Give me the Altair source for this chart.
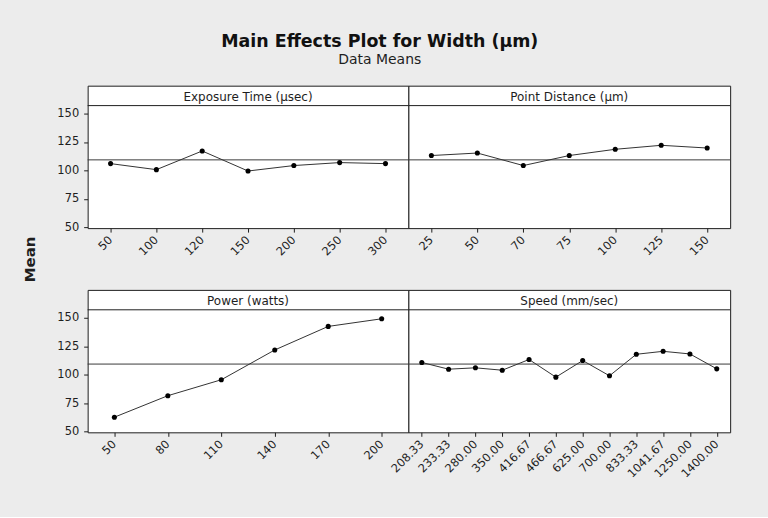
import altair as alt
import pandas as pd

# Overall mean of Width, drawn as the reference line in every panel
GRAND_MEAN = 109.3

exposure_levels = ["50", "100", "120", "150", "200", "250", "300"]
exposure_means = [106.0, 100.7, 117.1, 99.5, 104.3, 106.9, 106.0]

distance_levels = ["25", "50", "70", "75", "100", "125", "150"]
distance_means = [113.1, 115.3, 104.3, 113.1, 118.6, 122.1, 119.7]

power_levels = ["50", "80", "110", "140", "170", "200"]
power_means = [62.6, 81.5, 95.5, 121.7, 142.4, 149.1]

speed_levels = ["208.33", "233.33", "280.00", "350.00", "416.67", "466.67",
                "625.00", "700.00", "833.33", "1041.67", "1250.00", "1400.00"]
speed_means = [110.7, 104.8, 106.0, 103.9, 113.3, 97.8,
               112.4, 99.0, 117.9, 120.5, 118.2, 105.1]

y_ticks = [50, 75, 100, 125, 150]

FONT = "DejaVu Sans"
INK = "#1e1e1e"
STRIP = 20          # height of the factor-name strip on top of each panel
PLOT_H = 123        # height of the data area below the strip
H = STRIP + PLOT_H
Y_DOMAIN = [49.3, 157]
ROW_GAP = 31        # space between the top row's tick labels and the lower row


def panel(name, levels, means, width, show_y):
    df = pd.DataFrame({"level": levels, "mean": means})
    x = alt.X(
        "level:O",
        sort=levels,
        scale=alt.Scale(type="point", padding=0.5),
        axis=alt.Axis(title=None, labelAngle=-45, labelAlign="right",
                      labelBaseline="middle", labelPadding=6),
    )
    y_axis = (alt.Axis(title=None, values=y_ticks, labelPadding=5)
              if show_y else None)
    y = alt.Y(
        "mean:Q",
        scale=alt.Scale(domain=Y_DOMAIN, range=[H, STRIP], nice=False, zero=False),
        axis=y_axis,
    )
    ref_df = pd.DataFrame({"mean": [GRAND_MEAN]})
    base = alt.Chart(df)
    ref = alt.Chart(ref_df).mark_rule(color="#3a3a3a", strokeWidth=1).encode(y=y)
    line = base.mark_line(color="#333333", strokeWidth=1).encode(x=x, y=y)
    dots = base.mark_circle(color="#000000", size=26, opacity=1).encode(x=x, y=y)
    label_df = pd.DataFrame({"name": [name]})
    strip_line = alt.Chart(label_df).mark_rule(color=INK, strokeWidth=1).encode(
        x=alt.value(0), x2=alt.value(width), y=alt.value(STRIP)
    )
    strip_text = alt.Chart(label_df).mark_text(
        font=FONT, fontSize=12, color=INK, baseline="middle", align="center"
    ).encode(text="name:N", x=alt.value(width / 2), y=alt.value(STRIP / 2 + 1))
    return alt.layer(ref, line, dots, strip_line, strip_text).properties(
        width=width, height=H
    )


p1 = panel("Exposure Time (µsec)", exposure_levels, exposure_means, 322, True)
p2 = panel("Point Distance (µm)", distance_levels, distance_means, 323, False)
p3 = panel("Power (watts)", power_levels, power_means, 322, True)
p4 = panel("Speed (mm/sec)", speed_levels, speed_means, 323, False)

grid = alt.vconcat(
    alt.hconcat(p1, p2, spacing=0, bounds="flush"),
    alt.hconcat(p3, p4, spacing=0, bounds="flush"),
    spacing=ROW_GAP,
)

# Shared y-axis title, centred between the two panel rows
mean_h = 2 * H + 63
mean_label = (
    alt.Chart(pd.DataFrame({"t": ["Mean"]}))
    .mark_text(font=FONT, fontSize=15, fontWeight="bold", color=INK,
               angle=270, baseline="middle", align="center")
    .encode(text="t:N", x=alt.value(6), y=alt.value(mean_h / 2))
    .properties(width=12, height=mean_h,
                view=alt.ViewBackground(stroke="transparent", fill="transparent"))
)

chart = (
    alt.hconcat(
        mean_label,
        grid,
        spacing=17,
        title=alt.TitleParams(
            "Main Effects Plot for Width (µm)",
            subtitle="Data Means",
            font=FONT, fontSize=17.5, fontWeight="bold", color="#111111",
            subtitleFont=FONT, subtitleFontSize=14, subtitleColor=INK,
            subtitlePadding=3, anchor="middle", offset=18, dx=3,
        ),
    )
    .properties(
        background="#ececec",
        padding={"left": 22, "top": 32, "right": 37, "bottom": 35},
    )
    .configure_view(stroke=INK, strokeWidth=1, fill="white")
    .configure_axis(
        labelFont=FONT, labelFontSize=11.5, labelColor=INK,
        tickColor=INK, tickSize=4, domain=False, grid=False,
    )
)

chart.save("out.html", embed_options={"renderer": "svg", "actions": False})
